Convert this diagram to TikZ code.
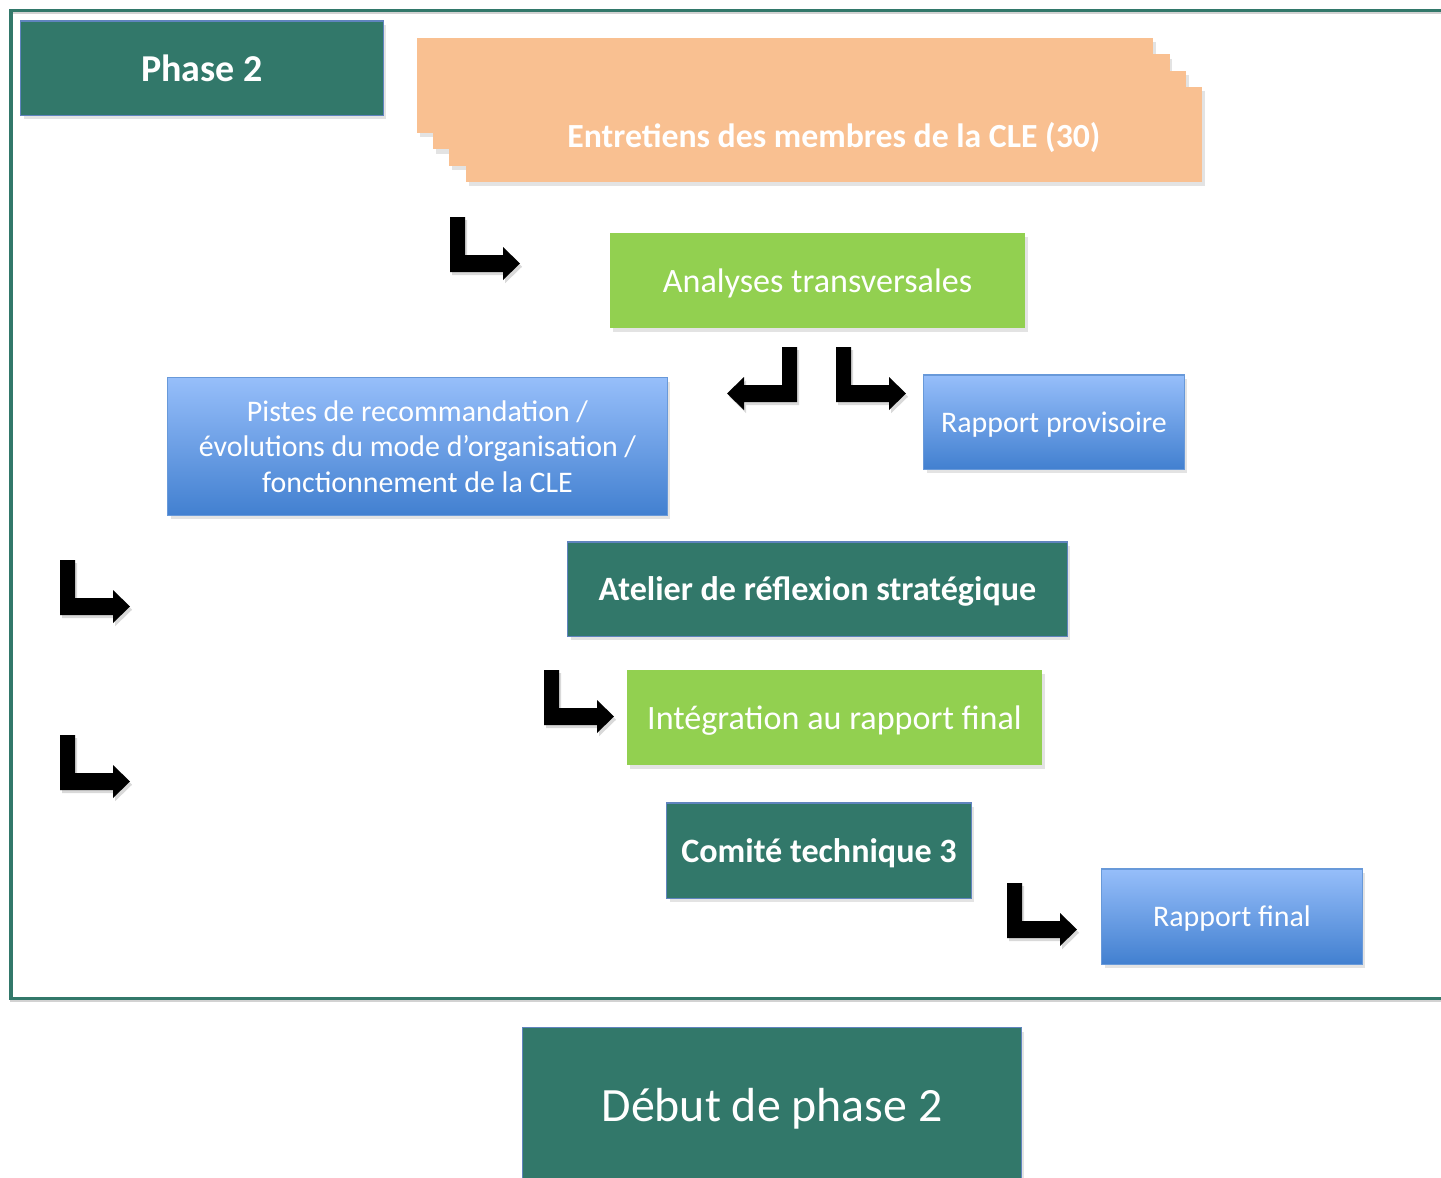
\documentclass[tikz,border=0pt]{standalone}
\usepackage{fontspec}
\setmainfont{Carlito}
\usetikzlibrary{shadows}

\definecolor{phaseteal}{RGB}{50,120,106}
\definecolor{phaseedge}{RGB}{96,132,190}
\definecolor{stepgreen}{RGB}{146,208,80}
\definecolor{steporange}{RGB}{249,192,145}
\definecolor{bluetop}{RGB}{150,190,250}
\definecolor{bluebottom}{RGB}{66,128,208}

\begin{document}
\begin{tikzpicture}[x=0.01cm,y=-0.01cm]
  \path[use as bounding box,clip] (0,0) rectangle (1441,1178);
  \tikzstyle{BoxStyle}=[inner sep=0pt,text=white,align=center,text depth=0pt,
    drop shadow={shadow xshift=0.8pt,shadow yshift=-1.2pt,opacity=0.22}]
  \tikzstyle{TealBox}=[BoxStyle,fill=phaseteal,draw=phaseedge,line width=0.3pt,
    font=\bfseries\fontsize{9.7}{11}\selectfont]
  \tikzstyle{GreenBox}=[BoxStyle,fill=stepgreen,font=\fontsize{9.7}{11}\selectfont]
  \tikzstyle{OrangeBox}=[BoxStyle,fill=steporange,minimum width=7.36cm,minimum height=0.95cm,
    font=\bfseries\fontsize{9.6}{11}\selectfont]
  \tikzstyle{BlueBox}=[BoxStyle,top color=bluetop,bottom color=bluebottom,draw=bluebottom!80,
    line width=0.3pt,font=\fontsize{8.5}{10.2}\selectfont]
  \tikzset{BendArrow/.pic={
    \fill[black,drop shadow={shadow xshift=0.6pt,shadow yshift=-0.9pt,opacity=0.3}]
      (0,0) -- (15,0) -- (15,38) -- (53,38) -- (53,30) -- (70,46.5)
      -- (53,63) -- (53,55) -- (0,55) -- cycle;}}
  % frame
  \draw[gray!35,line width=0.02cm] (11,13) rectangle (1460,1001);
  \draw[phaseteal,line width=0.03cm] (11,10) rectangle (1460,998);
  \node[TealBox,minimum width=3.62cm,minimum height=0.94cm,
    font=\bfseries\fontsize{10.8}{13}\selectfont] (phase) at (202,68) {Phase 2};
  % stacked interviews
  \foreach \k in {3,2,1}
    \node[OrangeBox] (entretiens\k) at ({834-16.3*\k},{134.5-16.3*\k}) {};
  \node[OrangeBox] (entretiens) at (834,134.5) {Entretiens des membres de la CLE (30)};
  \node[GreenBox,minimum width=4.15cm,minimum height=0.95cm] (analyses) at (817.5,280.5) {Analyses transversales};
  \node[BlueBox,minimum width=4.99cm,minimum height=1.37cm] (pistes) at (417.5,446.5)
    {Pistes de recommandation /\\ évolutions du mode d’organisation /\\ fonctionnement de la CLE};
  \node[BlueBox,minimum width=2.6cm,minimum height=0.94cm] (provisoire) at (1054,422) {Rapport provisoire};
  \node[TealBox,minimum width=4.99cm,minimum height=0.94cm] (atelier) at (817.5,589) {Atelier de réflexion stratégique};
  \node[GreenBox,minimum width=4.15cm,minimum height=0.95cm] (integration) at (834.5,717.5) {Intégration au rapport final};
  \node[TealBox,minimum width=3.04cm,minimum height=0.95cm] (comite) at (819,850.5) {Comité technique 3};
  \node[BlueBox,minimum width=2.6cm,minimum height=0.95cm] (final) at (1232,916.5) {Rapport final};
  \node[TealBox,minimum width=4.98cm,minimum height=1.54cm,
    font=\fontsize{13.6}{16}\selectfont] (debut) at (772,1105) {Début de phase 2};
  % bent arrows
  \pic at (450,217) {BendArrow};
  \pic[xscale=-1] at (797,347) {BendArrow};
  \pic at (836,347) {BendArrow};
  \pic at (60,560) {BendArrow};
  \pic at (60,735) {BendArrow};
  \pic at (544,670) {BendArrow};
  \pic at (1007,883) {BendArrow};
\end{tikzpicture}
\end{document}
